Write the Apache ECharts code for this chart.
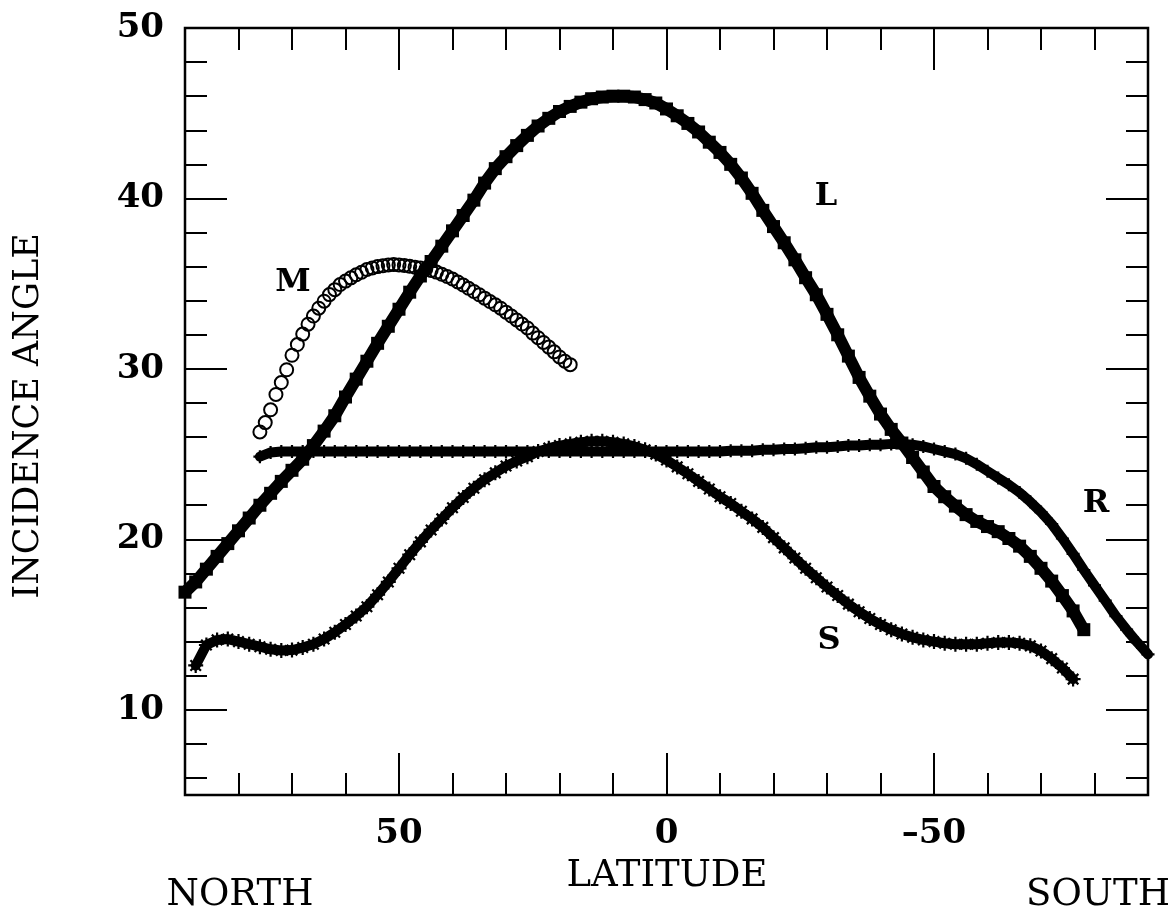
<!DOCTYPE html>
<html>
<head>
<meta charset="utf-8">
<title>Incidence angle vs latitude</title>
<script src="https://cdn.jsdelivr.net/npm/echarts@6.0.0/dist/echarts.min.js"></script>
<style>
  html, body { margin: 0; padding: 0; background: #fff; }
  #chart { width: 1172px; height: 918px; }
</style>
</head>
<body>
<div id="chart"></div>
<script>
// curve L (filled squares), 2 deg steps
var latL = [90, 88, 86, 84, 82, 80, 78, 76, 74, 72, 70, 68, 66, 64, 62, 60, 58, 56, 54, 52, 50,
  48, 46, 44, 42, 40, 38, 36, 34, 32, 30, 28, 26, 24, 22, 20, 18, 16, 14, 12, 10,
  8, 6, 4, 2, 0, -2, -4, -6, -8, -10, -12, -14, -16, -18, -20, -22, -24, -26, -28, -30,
  -32, -34, -36, -38, -40, -42, -44, -46, -48, -50, -52, -54, -56, -58, -60, -62, -64, -66, -68, -70,
  -72, -74, -76, -78];
var angleL = [16.9, 17.5, 18.25, 19.0, 19.75, 20.5, 21.25, 22.0, 22.7, 23.4, 24.05, 24.7, 25.5, 26.35, 27.25, 28.35, 29.4, 30.45, 31.5, 32.5, 33.5,
  34.5, 35.45, 36.3, 37.2, 38.1, 39.0, 39.9, 40.9, 41.75, 42.45, 43.1, 43.7, 44.25, 44.7, 45.1, 45.4, 45.65, 45.85, 45.95, 46.0,
  46.0, 45.95, 45.8, 45.6, 45.25, 44.85, 44.4, 43.9, 43.3, 42.7, 42.0, 41.2, 40.3, 39.3, 38.35, 37.4, 36.4, 35.35, 34.35, 33.2,
  32.0, 30.75, 29.5, 28.4, 27.35, 26.45, 25.65, 24.8, 23.95, 23.1, 22.5, 21.95, 21.45, 21.05, 20.75, 20.45, 20.05, 19.6, 19.0, 18.3,
  17.55, 16.7, 15.8, 14.7];

// curve R (crosses)
var latR = [76, 74, 72, 70, 68, 66, 64, 62, 60, 58, 56, 54, 52, 50,
  48, 46, 44, 42, 40, 38, 36, 34, 32, 30, 28, 26, 24, 22, 20, 18, 16, 14, 12, 10,
  8, 6, 4, 2, 0, -2, -4, -6, -8, -10, -12, -14, -16, -18, -20, -22, -24, -26, -28, -30,
  -32, -34, -36, -38, -40, -42, -44, -46, -48, -50, -52, -54, -56, -58, -60, -62, -64, -66, -68, -70,
  -72, -74, -76, -78, -80, -82, -84, -86, -88, -90];
var angleR = [24.85, 25.1, 25.15, 25.15, 25.15, 25.15, 25.15, 25.15, 25.15, 25.15, 25.15, 25.15, 25.15, 25.15,
  25.15, 25.15, 25.15, 25.15, 25.15, 25.15, 25.15, 25.15, 25.15, 25.15, 25.15, 25.15, 25.15, 25.15, 25.15, 25.15, 25.15, 25.15, 25.15, 25.15,
  25.15, 25.15, 25.15, 25.15, 25.15, 25.15, 25.15, 25.15, 25.15, 25.15, 25.2, 25.2, 25.2, 25.25, 25.25, 25.3, 25.3, 25.35, 25.4, 25.4,
  25.45, 25.5, 25.5, 25.55, 25.55, 25.6, 25.6, 25.55, 25.45, 25.3, 25.15, 25.0, 24.75, 24.4, 24.0, 23.6, 23.2, 22.75, 22.2, 21.6,
  20.9, 20.05, 19.15, 18.2, 17.3, 16.4, 15.5, 14.7, 13.95, 13.25];

// curve S (asterisks)
var latS = [88, 86, 84, 82, 80, 78, 76, 74, 72, 70, 68, 66, 64, 62, 60, 58, 56, 54, 52, 50,
  48, 46, 44, 42, 40, 38, 36, 34, 32, 30, 28, 26, 24, 22, 20, 18, 16, 14, 12, 10,
  8, 6, 4, 2, 0, -2, -4, -6, -8, -10, -12, -14, -16, -18, -20, -22, -24, -26, -28, -30,
  -32, -34, -36, -38, -40, -42, -44, -46, -48, -50, -52, -54, -56, -58, -60, -62, -64, -66, -68, -70,
  -72, -74, -76];
var angleS = [12.6, 13.8, 14.1, 14.15, 14.0, 13.85, 13.7, 13.55, 13.48, 13.5, 13.65, 13.85, 14.15, 14.55, 15.0, 15.5, 16.05, 16.75, 17.5, 18.3,
  19.1, 19.85, 20.55, 21.2, 21.85, 22.45, 23.0, 23.5, 23.9, 24.3, 24.6, 24.85, 25.15, 25.35, 25.5, 25.6, 25.7, 25.75, 25.75, 25.7,
  25.6, 25.45, 25.25, 25.0, 24.65, 24.25, 23.85, 23.4, 22.95, 22.5, 22.1, 21.65, 21.2, 20.7, 20.1, 19.5, 18.9, 18.3, 17.75, 17.2,
  16.7, 16.2, 15.75, 15.35, 15.0, 14.7, 14.45, 14.25, 14.1, 14.0, 13.9, 13.85, 13.85, 13.85, 13.9, 13.95, 13.95, 13.9, 13.75, 13.45,
  13.0, 12.45, 11.8];

// curve M (open circles), 1 deg steps
var latM = [76, 75, 74, 73, 72, 71, 70, 69, 68, 67, 66, 65, 64, 63, 62, 61, 60, 59, 58, 57, 56, 55, 54, 53, 52, 51, 50,
  49, 48, 47, 46, 45, 44, 43, 42, 41, 40, 39, 38, 37, 36, 35, 34, 33, 32, 31, 30, 29, 28, 27, 26, 25, 24, 23, 22, 21, 20, 19, 18];
var angleM = [26.3, 26.85, 27.6, 28.5, 29.2, 29.95, 30.8, 31.43, 32.04, 32.62, 33.1, 33.56, 33.97, 34.36, 34.65, 34.95, 35.15, 35.34, 35.52, 35.67, 35.83, 35.92, 36.0, 36.05, 36.1, 36.12, 36.1,
  36.07, 36.02, 35.97, 35.92, 35.85, 35.77, 35.68, 35.55, 35.42, 35.27, 35.1, 34.92, 34.73, 34.54, 34.35, 34.15, 33.95, 33.76, 33.56, 33.33, 33.1, 32.87, 32.63, 32.4, 32.1, 31.83, 31.55, 31.28, 31.0, 30.7, 30.45, 30.25];

// axis ticks
var latMajor = [50, 0, -50];
var angleMajor = [10, 20, 30, 40, 50];
var angleMinor = [6, 8, 12, 14, 16, 18, 22, 24, 26, 28, 32, 34, 36, 38, 42, 44, 46, 48];

// curve names and where they sit
var curveNames = ['M', 'L', 'R', 'S'];
var curveNameLat = [69.8, -29.8, -80.3, -30.4];
var curveNameAngle = [35.05, 40.1, 22.1, 14.05];

function pairs(xs, ys) {
  var out = [];
  for (var i = 0; i < xs.length; i++) out.push([xs[i], ys[i]]);
  return out;
}

var FONT = 'DejaVu Serif';
var plusPath = 'path://M5,0L5,10M0,5L10,5';
var starPath = 'path://M5,0L5,10M0,5L10,5M1.5,1.5L8.5,8.5M8.5,1.5L1.5,8.5';

function latAxis(pos, major, withLabel) {
  var ax = {
    type: 'value', position: pos, min: -90, max: 90, inverse: true,
    axisLine: { show: false, onZero: false }, splitLine: { show: false },
    axisTick: { inside: true, length: major ? 42 : 22, lineStyle: { color: '#000', width: 2 } },
    axisLabel: { show: false }
  };
  if (major) {
    ax.axisTick.customValues = latMajor;
  } else {
    ax.interval = 10;
  }
  if (withLabel) {
    ax.axisLabel = {
      show: true, customValues: latMajor, margin: 22,
      fontFamily: FONT, fontSize: 34, fontWeight: 'bold', color: '#000',
      formatter: function (v) { return v < 0 ? '\u2013' + Math.abs(v) : String(v); }
    };
  }
  return ax;
}

function angleAxis(pos, major, withLabel) {
  var ax = {
    type: 'value', position: pos, min: 5, max: 50,
    axisLine: { show: false, onZero: false }, splitLine: { show: false },
    axisTick: { inside: true, length: major ? 42 : 22, customValues: major ? angleMajor : angleMinor,
      lineStyle: { color: '#000', width: 2 } },
    axisLabel: { show: false }
  };
  if (withLabel) {
    ax.axisLabel = {
      show: true, customValues: angleMajor, margin: 21,
      fontFamily: FONT, fontSize: 34, fontWeight: 'bold', color: '#000'
    };
  }
  return ax;
}

var chart = echarts.init(document.getElementById('chart'));
var option = {
  animation: false,
  backgroundColor: '#fff',
  grid: {
    left: 185, top: 28, width: 963, height: 767,
    show: true, borderColor: '#000', borderWidth: 2.5, backgroundColor: 'transparent',
    containLabel: false, outerBoundsMode: 'none'
  },
  xAxis: [
    latAxis('bottom', false, false),
    latAxis('bottom', true, true),
    latAxis('top', false, false),
    latAxis('top', true, false)
  ],
  yAxis: [
    angleAxis('left', false, false),
    angleAxis('left', true, true),
    angleAxis('right', false, false),
    angleAxis('right', true, false)
  ],
  series: [
    {
      name: 'M', type: 'line', data: pairs(latM, angleM),
      symbol: 'circle', symbolSize: 13,
      itemStyle: { color: 'rgba(0,0,0,0)', borderColor: '#000', borderWidth: 2 },
      lineStyle: { width: 0, opacity: 0 }
    },
    {
      name: 'R', type: 'line', data: pairs(latR, angleR),
      symbol: plusPath, symbolSize: 13,
      itemStyle: { color: '#000', borderColor: '#000', borderWidth: 2.2 },
      lineStyle: { color: '#000', width: 10, cap: 'round', join: 'round' }
    },
    {
      name: 'S', type: 'line', data: pairs(latS, angleS),
      symbol: starPath, symbolSize: 15,
      itemStyle: { color: '#000', borderColor: '#000', borderWidth: 2.2 },
      lineStyle: { color: '#000', width: 10, cap: 'round', join: 'round' }
    },
    {
      name: 'L', type: 'line', data: pairs(latL, angleL),
      symbol: 'rect', symbolSize: 13,
      itemStyle: { color: '#000' },
      lineStyle: { color: '#000', width: 12, cap: 'round', join: 'round' }
    },
    {
      name: 'names', type: 'scatter',
      data: curveNames.map(function (n, i) { return { name: n, value: [curveNameLat[i], curveNameAngle[i]] }; }),
      symbolSize: 1, itemStyle: { color: 'rgba(0,0,0,0)', opacity: 1 },
      label: { show: true, position: 'inside', formatter: '{b}', fontFamily: FONT, fontSize: 32, fontWeight: 'bold',
        color: '#000', opacity: 1, textBorderWidth: 0 },
      silent: true
    }
  ],
  graphic: [
    { type: 'text', x: 29, y: 416, rotation: Math.PI / 2,
      style: { text: 'INCIDENCE ANGLE', font: '35px "DejaVu Serif"', fill: '#000', align: 'center', verticalAlign: 'middle' } },
    { type: 'text', x: 667, y: 876,
      style: { text: 'LATITUDE', font: '37px "DejaVu Serif"', fill: '#000', align: 'center', verticalAlign: 'middle' } },
    { type: 'text', x: 240, y: 895,
      style: { text: 'NORTH', font: '37px "DejaVu Serif"', fill: '#000', align: 'center', verticalAlign: 'middle' } },
    { type: 'text', x: 1098, y: 895,
      style: { text: 'SOUTH', font: '37px "DejaVu Serif"', fill: '#000', align: 'center', verticalAlign: 'middle' } }
  ]
};
option && chart.setOption(option);
</script>
</body>
</html>
